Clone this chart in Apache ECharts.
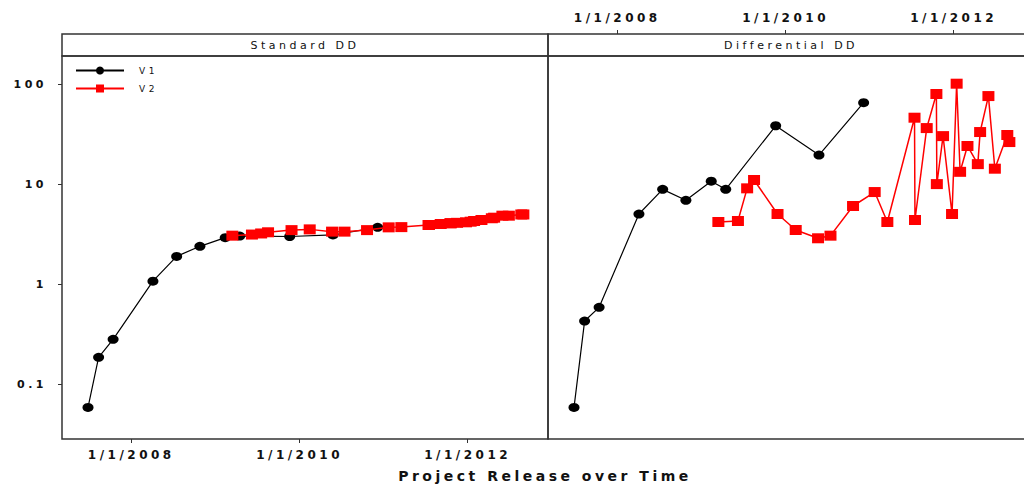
<!DOCTYPE html>
<html><head><meta charset="utf-8">
<script src="https://cdn.jsdelivr.net/npm/echarts@6/dist/echarts.min.js"></script>
<style>
html,body{margin:0;padding:0;background:#fff;}
#chart{width:1024px;height:485px;}
#chart text{letter-spacing:3.5px;}
</style></head><body><div id="chart"></div>
<script>
// ---- data ----
const v1Dates = ['2007-06-27','2007-08-12','2007-10-14','2008-04-04','2008-07-16','2008-10-25','2009-02-12','2009-04-16','2009-11-19','2010-05-26','2010-12-06'];
const v1Standard = [0.059, 0.187, 0.283, 1.08, 1.91, 2.41, 2.94, 3.05, 3.02, 3.13, 3.73];
const v1Differential = [0.059, 0.431, 0.591, 5.07, 8.95, 6.95, 10.8, 8.95, 38.7, 19.7, 65.8];

const v2Dates = ['2009-03-15','2009-06-08','2009-07-18','2009-08-17','2009-11-27','2010-02-14','2010-05-22','2010-07-15','2010-10-21','2011-01-23','2011-03-19','2011-07-15','2011-07-17','2011-09-06','2011-10-18','2011-10-20','2011-11-16','2011-12-25','2012-01-14','2012-01-29','2012-03-01','2012-04-15','2012-04-25','2012-05-31','2012-06-28','2012-08-21','2012-08-30'];
const v2Standard = [3.08, 3.16, 3.24, 3.33, 3.5, 3.56, 3.38, 3.38, 3.5, 3.73, 3.75, 3.94, 3.94, 4.03, 4.1, 4.1, 4.14, 4.19, 4.25, 4.32, 4.42, 4.6, 4.66, 4.88, 4.88, 5.02, 5.02];
const v2Differential = [4.22, 4.32, 9.16, 11.1, 5.07, 3.51, 2.90, 3.08, 6.10, 8.41, 4.22, 46.6, 4.42, 36.7, 80.4, 10.1, 30.5, 5.07, 102, 13.4, 24.3, 16.0, 33.5, 76.7, 14.4, 31.3, 26.6];

const seriesNames = ['V1', 'V2'];
const panelTitles = ['Standard DD', 'Differential DD'];
const xTickDates = ['2008-01-01', '2010-01-01', '2012-01-01'];
const xTickLabels = ['1/1/2008', '1/1/2010', '1/1/2012'];
const xAxisTitle = 'Project Release over Time';
const xMin = '2007-03-06', xMax = '2012-12-15';
const yMin = 0.0285, yMax = 193;

// ---- chart ----
function ts(s) { const p = s.split('-'); return new Date(+p[0], +p[1] - 1, +p[2]).getTime(); }
const tickTs = xTickDates.map(ts);
const FONT = '"DejaVu Sans", sans-serif';
const TXT = '#111';
const BORDER = '#333';

function xLabel(v) {
  let best = 0;
  tickTs.forEach((t, i) => { if (Math.abs(t - v) < Math.abs(tickTs[best] - v)) best = i; });
  return xTickLabels[best];
}

function xAxis(gridIndex, top) {
  return {
    gridIndex, type: 'value', min: ts(xMin), max: ts(xMax), scale: true,
    position: top ? 'top' : 'bottom', offset: top ? 22 : 0,
    axisLine: { show: false },
    axisTick: { show: true, length: 4, customValues: tickTs, lineStyle: { color: BORDER, width: 1 } },
    axisLabel: { customValues: tickTs, formatter: xLabel, margin: 10, fontSize: 12, fontWeight: 'bold', fontFamily: FONT, color: TXT },
    splitLine: { show: false }, minorTick: { show: false }
  };
}
function yAxis(gridIndex, show) {
  return {
    gridIndex, type: 'log', logBase: 10, min: yMin, max: yMax,
    axisLine: { show: false },
    axisTick: { show: show, length: 4, lineStyle: { color: BORDER, width: 1 } },
    axisLabel: { show: show, showMinLabel: false, showMaxLabel: false, margin: 15, fontSize: 11, fontWeight: 'bold', fontFamily: FONT, color: TXT },
    splitLine: { show: false }
  };
}
function pairs(dates, vals) { return dates.map((d, i) => [ts(d), vals[i]]); }
function line(name, idx, data, isV2) {
  return {
    name, type: 'line', xAxisIndex: idx, yAxisIndex: idx, data,
    symbol: isV2 ? 'rect' : 'circle', symbolSize: isV2 ? [12, 10] : [11, 9],
    showAllSymbol: true,
    itemStyle: { color: isV2 ? '#ff0000' : '#000000' },
    lineStyle: { color: isV2 ? '#ff0000' : '#000000', width: isV2 ? 1.5 : 1.2 },
    emphasis: { disabled: true }, z: isV2 ? 3 : 2
  };
}

const chart = echarts.init(document.getElementById('chart'), null, { renderer: 'svg' });
chart.setOption({
  animation: false,
  backgroundColor: '#ffffff',
  textStyle: { fontFamily: FONT },
  grid: [
    { left: 62, top: 56, width: 486, height: 383, outerBoundsMode: 'none', containLabel: false, show: true, borderColor: BORDER, borderWidth: 1.5, backgroundColor: 'transparent' },
    { left: 548, top: 56, width: 486, height: 383, outerBoundsMode: 'none', containLabel: false, show: true, borderColor: BORDER, borderWidth: 1.5, backgroundColor: 'transparent' }
  ],
  xAxis: [xAxis(0, false), xAxis(1, true)],
  yAxis: [yAxis(0, true), yAxis(1, false)],
  legend: {
    data: seriesNames, orient: 'vertical', left: 75, top: 66, padding: 0,
    itemWidth: 48, itemHeight: 10, itemGap: 9, selectedMode: false,
    textStyle: { fontSize: 9, fontFamily: FONT, color: TXT, padding: [0, 0, 0, 10] }
  },
  series: [
    line(seriesNames[0], 0, pairs(v1Dates, v1Standard), false),
    line(seriesNames[1], 0, pairs(v2Dates, v2Standard), true),
    line(seriesNames[0], 1, pairs(v1Dates, v1Differential), false),
    line(seriesNames[1], 1, pairs(v2Dates, v2Differential), true)
  ],
  graphic: [
    { type: 'rect', silent: true, z: 10, shape: { x: 62, y: 34, width: 486, height: 22 }, style: { fill: 'none', stroke: BORDER, lineWidth: 1.5 } },
    { type: 'rect', silent: true, z: 10, shape: { x: 548, y: 34, width: 486, height: 22 }, style: { fill: 'none', stroke: BORDER, lineWidth: 1.5 } },
    { type: 'text', silent: true, z: 10, x: 305, y: 45, style: { text: panelTitles[0], font: '11px ' + FONT, fill: TXT, align: 'center', verticalAlign: 'middle', textAlign: 'center', textVerticalAlign: 'middle' } },
    { type: 'text', silent: true, z: 10, x: 791, y: 45, style: { text: panelTitles[1], font: '11px ' + FONT, fill: TXT, align: 'center', verticalAlign: 'middle', textAlign: 'center', textVerticalAlign: 'middle' } },
    { type: 'text', silent: true, z: 10, x: 545, y: 476, style: { text: xAxisTitle, font: 'bold 14px ' + FONT, fill: TXT, align: 'center', verticalAlign: 'middle', textAlign: 'center', textVerticalAlign: 'middle' } }
  ]
});
</script></body></html>
